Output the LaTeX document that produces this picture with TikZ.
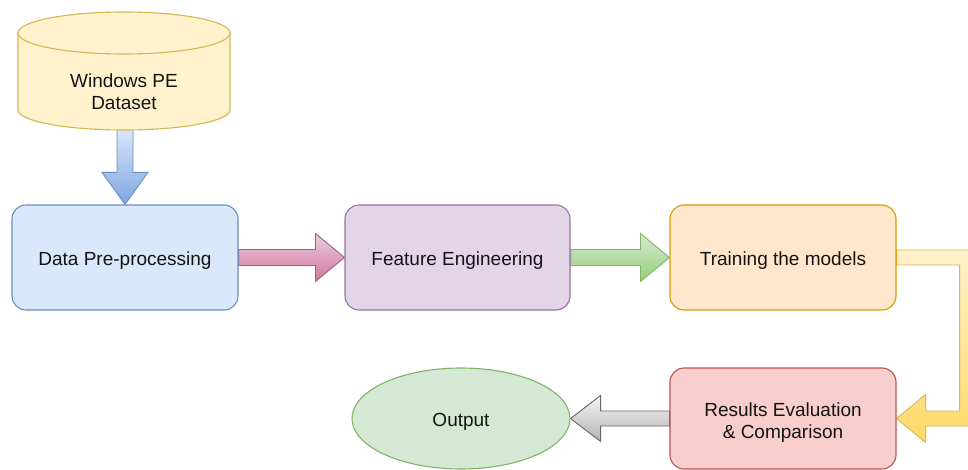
\documentclass[tikz,border=0pt]{standalone}
\usepackage{fontspec}
\setmainfont{Liberation Sans}
\usetikzlibrary{calc,shapes.geometric,backgrounds}
\definecolor{txtc}{HTML}{141414}
\definecolor{cylfill}{HTML}{FFF2CC}
\definecolor{cyldraw}{HTML}{D6B656}
\definecolor{bluefill}{HTML}{DAE8FC}
\definecolor{bluedraw}{HTML}{6C8EBF}
\definecolor{bluegrad}{HTML}{7EA6E0}
\definecolor{purfill}{HTML}{E1D5E7}
\definecolor{purdraw}{HTML}{9673A6}
\definecolor{orfill}{HTML}{FFE6CC}
\definecolor{ordraw}{HTML}{D79B00}
\definecolor{redfill}{HTML}{F8CECC}
\definecolor{reddraw}{HTML}{B85450}
\definecolor{grnfill}{HTML}{D5E8D4}
\definecolor{grndraw}{HTML}{82B366}
\definecolor{grngrad}{HTML}{97D077}
\definecolor{pinkfill}{HTML}{E6D0DE}
\definecolor{pinkgrad}{HTML}{D5739D}
\definecolor{pinkdraw}{HTML}{996185}
\definecolor{yelgrad}{HTML}{FFD966}
\definecolor{greyfill}{HTML}{F5F5F5}
\definecolor{greygrad}{HTML}{B3B3B3}
\definecolor{greydraw}{HTML}{666666}
\tikzset{
  box/.style={rectangle, rounded corners=14pt, minimum width=226pt, minimum height=105pt,
    line width=1.1pt, text=txtc, font=\fontsize{19}{22}\selectfont, align=center, inner sep=0pt},
  lbl/.style={text=txtc, font=\fontsize{19}{22}\selectfont, align=center, inner sep=0pt},
  arr/.style={line width=0.9pt, line join=miter},
  bluearr/.style={arr, draw=bluedraw, top color=bluefill, bottom color=bluegrad},
  pinkarr/.style={arr, draw=pinkdraw, top color=pinkfill, bottom color=pinkgrad},
  grnarr/.style={arr, draw=grndraw, top color=grnfill, bottom color=grngrad},
  yelarr/.style={arr, draw=cyldraw, top color=cylfill, bottom color=yelgrad},
  greyarr/.style={arr, draw=greydraw, top color=greyfill, bottom color=greygrad},
}
\newcommand{\hfatarrow}[3]{%
  \path[#3] ($(#1)+(0,-8)$) -- ($(#2)+(-29,-8)$) -- ($(#2)+(-29,-24)$) -- (#2)
    -- ($(#2)+(-29,24)$) -- ($(#2)+(-29,8)$) -- ($(#1)+(0,8)$) -- cycle;}
\newcommand{\dnshift}[2]{\raisebox{-#1}[\height][\depth]{\begin{tabular}{@{}c@{}}#2\end{tabular}}}
\begin{document}
\begin{tikzpicture}[x=1pt,y=-1pt]
\useasboundingbox (0,0) rectangle (968,470);
\clip (0,0) rectangle (968,470);

% database cylinder
\fill[cylfill] (18,33) rectangle (230,110);
\fill[cylfill] (124,110) ellipse [x radius=106, y radius=20];
\draw[cyldraw, line width=1.1pt] (18,33) -- (18,110) arc[start angle=180, end angle=0, x radius=106, y radius=20] -- (230,33);
\filldraw[fill=cylfill, draw=cyldraw, line width=1.1pt] (124,33) ellipse [x radius=106, y radius=21];
\node[lbl] (db) at (124,92) {Windows PE\\Dataset};
\coordinate (dbbot) at (125,128);

% process boxes
\node[box, fill=bluefill, draw=bluedraw] (b1) at (125,257.5) {\dnshift{4pt}{Data Pre-processing}};
\node[box, fill=purfill, draw=purdraw, minimum width=225pt] (b2) at (457.5,257.5) {\dnshift{4pt}{Feature Engineering}};
\node[box, fill=orfill, draw=ordraw] (b3) at (783,257.5) {\dnshift{4pt}{Training the models}};
\node[box, fill=redfill, draw=reddraw, minimum height=101pt] (b4) at (783,418.5) {\dnshift{5pt}{Results Evaluation\\\& Comparison}};
\node[ellipse, fill=grnfill, draw=grndraw, line width=1.1pt, minimum width=218pt, minimum height=101pt,
      inner sep=0pt, text=txtc, font=\fontsize{19}{22}\selectfont] (out) at (461,418.5) {\dnshift{4pt}{Output}};

\begin{scope}[on background layer]
  % blue down arrow
  \path[bluearr] ($(dbbot)+(-8,0)$) -- ($(b1.north)+(-8,-32)$) -- ($(b1.north)+(-23,-32)$) -- (b1.north)
     -- ($(b1.north)+(23,-32)$) -- ($(b1.north)+(8,-32)$) -- ($(dbbot)+(8,0)$) -- cycle;
  % horizontal arrows
  \hfatarrow{b1.east}{b2.west}{pinkarr}
  \hfatarrow{b2.east}{b3.west}{grnarr}
  % bent yellow arrow
  \path[yelarr] ($(b3.east)+(0,-7.5)$) -- ($(b3.east)+(78,-7.5)$) -- ($(b4.east)+(78,7.5)$)
     -- ($(b4.east)+(29,7.5)$) -- ($(b4.east)+(29,24)$) -- (b4.east) -- ($(b4.east)+(29,-24)$)
     -- ($(b4.east)+(29,-7.5)$) -- ($(b4.east)+(63,-7.5)$) -- ($(b3.east)+(63,7.5)$)
     -- ($(b3.east)+(0,7.5)$) -- cycle;
  % grey arrow
  \path[greyarr] ($(b4.west)+(0,-7.5)$) -- ($(out.east)+(30,-7.5)$) -- ($(out.east)+(30,-23)$) -- (out.east)
     -- ($(out.east)+(30,23)$) -- ($(out.east)+(30,7.5)$) -- ($(b4.west)+(0,7.5)$) -- cycle;
\end{scope}
\end{tikzpicture}
\end{document}
